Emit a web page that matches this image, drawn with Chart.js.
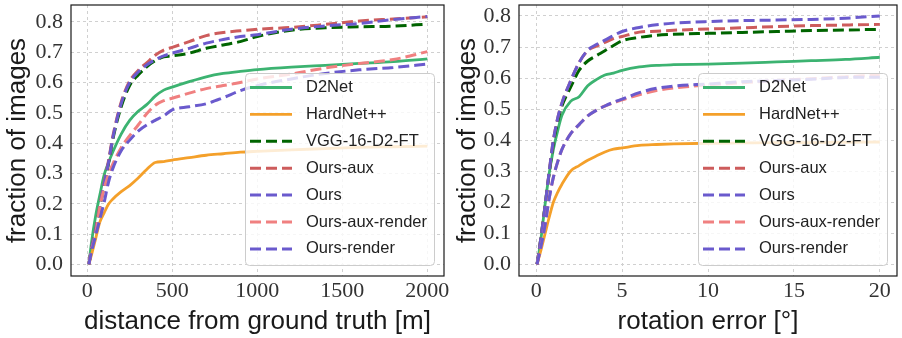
<!DOCTYPE html>
<html>
<head>
<meta charset="utf-8">
<script src="https://cdn.jsdelivr.net/npm/chart.js@4.4.0/dist/chart.umd.min.js"></script>
<style>
  html, body { margin: 0; padding: 0; background: #fff; }
  canvas { position: absolute; top: 0; }
  #left { left: 0; }
  #right { left: 450px; }
</style>
</head>
<body>
<canvas id="left" width="450" height="338"></canvas>
<canvas id="right" width="452" height="338"></canvas>
<script>
// series (same order in both panels)
const seriesNames = ['D2Net', 'HardNet++', 'VGG-16-D2-FT', 'Ours-aux', 'Ours', 'Ours-aux-render', 'Ours-render'];
const seriesColors = ['#3cb371', '#f4a02a', '#006400', '#cd5c5c', '#6a5acd', '#f08080', '#6a5acd'];
const seriesDashed = [false, false, true, true, true, true, true];

// left panel: distance from ground truth [m]
const distX = [10, 25, 50, 75, 100, 125, 150, 200, 250, 300, 350, 400, 450, 500, 600, 700, 800, 900, 1000, 1200, 1400, 1600, 1800, 2000];
const distD2Net = [0, 0.07, 0.16, 0.23, 0.295, 0.335, 0.37, 0.43, 0.475, 0.505, 0.527, 0.555, 0.575, 0.585, 0.603, 0.619, 0.63, 0.637, 0.643, 0.651, 0.657, 0.663, 0.669, 0.678];
const distHardNet = [0, 0.03, 0.085, 0.14, 0.17, 0.198, 0.215, 0.24, 0.26, 0.285, 0.313, 0.336, 0.339, 0.344, 0.352, 0.36, 0.365, 0.37, 0.373, 0.378, 0.382, 0.386, 0.388, 0.39];
const distVGG = [0, 0.05, 0.11, 0.19, 0.26, 0.33, 0.41, 0.52, 0.59, 0.625, 0.652, 0.672, 0.685, 0.688, 0.697, 0.713, 0.724, 0.735, 0.752, 0.773, 0.781, 0.784, 0.786, 0.793];
const distOursAux = [0, 0.05, 0.115, 0.195, 0.27, 0.34, 0.42, 0.535, 0.605, 0.64, 0.665, 0.69, 0.707, 0.716, 0.735, 0.755, 0.765, 0.771, 0.776, 0.782, 0.792, 0.803, 0.81, 0.817];
const distOurs = [0, 0.05, 0.11, 0.19, 0.265, 0.335, 0.415, 0.53, 0.6, 0.635, 0.658, 0.675, 0.688, 0.697, 0.713, 0.73, 0.742, 0.752, 0.758, 0.776, 0.787, 0.795, 0.808, 0.818];
const distOursAuxRender = [0, 0.045, 0.1, 0.19, 0.25, 0.295, 0.33, 0.385, 0.425, 0.46, 0.497, 0.525, 0.54, 0.548, 0.565, 0.58, 0.59, 0.6, 0.612, 0.628, 0.648, 0.663, 0.676, 0.702];
const distOursRender = [0, 0.04, 0.095, 0.15, 0.205, 0.27, 0.315, 0.375, 0.41, 0.44, 0.46, 0.475, 0.49, 0.51, 0.52, 0.53, 0.55, 0.573, 0.59, 0.612, 0.63, 0.642, 0.65, 0.661];

// right panel: rotation error [deg]
const rotX = [0.05, 0.25, 0.5, 0.75, 1, 1.25, 1.5, 2, 2.5, 3, 3.5, 4, 4.5, 5, 6, 7, 8, 10, 12, 14, 16, 18, 20];
const rotD2Net = [0, 0.07, 0.185, 0.29, 0.37, 0.43, 0.48, 0.525, 0.54, 0.575, 0.595, 0.61, 0.616, 0.625, 0.636, 0.641, 0.643, 0.645, 0.648, 0.652, 0.656, 0.66, 0.667];
const rotHardNet = [0, 0.04, 0.095, 0.15, 0.2, 0.232, 0.258, 0.3, 0.318, 0.335, 0.349, 0.362, 0.371, 0.375, 0.383, 0.386, 0.388, 0.39, 0.391, 0.392, 0.392, 0.393, 0.394];
const rotVGG = [0, 0.075, 0.18, 0.29, 0.39, 0.46, 0.51, 0.57, 0.625, 0.655, 0.672, 0.688, 0.705, 0.72, 0.731, 0.738, 0.741, 0.744, 0.747, 0.75, 0.753, 0.755, 0.757];
const rotOursAux = [0, 0.075, 0.18, 0.295, 0.4, 0.47, 0.52, 0.59, 0.65, 0.688, 0.703, 0.715, 0.727, 0.734, 0.748, 0.751, 0.754, 0.758, 0.762, 0.766, 0.769, 0.771, 0.773];
const rotOurs = [0, 0.075, 0.18, 0.295, 0.4, 0.47, 0.52, 0.59, 0.65, 0.69, 0.708, 0.722, 0.737, 0.75, 0.763, 0.772, 0.777, 0.782, 0.785, 0.787, 0.789, 0.793, 0.8];
const rotOursAuxRender = [0, 0.05, 0.12, 0.21, 0.28, 0.33, 0.37, 0.42, 0.45, 0.478, 0.496, 0.51, 0.52, 0.53, 0.546, 0.56, 0.568, 0.578, 0.585, 0.592, 0.598, 0.604, 0.61];
const rotOursRender = [0, 0.05, 0.12, 0.21, 0.28, 0.33, 0.37, 0.42, 0.45, 0.478, 0.496, 0.51, 0.522, 0.532, 0.553, 0.567, 0.574, 0.581, 0.588, 0.592, 0.596, 0.602, 0.603];

// tick labels
const yTicks = [0, 0.1, 0.2, 0.3, 0.4, 0.5, 0.6, 0.7, 0.8];
const distTicks = [0, 500, 1000, 1500, 2000];
const rotTicks = [0, 5, 10, 15, 20];

const tickFont = { family: 'Liberation Serif', size: 22 };
const titleFont = { family: 'Liberation Sans', size: 26 };

// black box round the plot area
const frameBox = {
  id: 'frameBox',
  afterDatasetsDraw(chart) {
    const { ctx, chartArea: a } = chart;
    ctx.save();
    ctx.strokeStyle = '#1a1a1a';
    ctx.lineWidth = 1.2;
    ctx.strokeRect(a.left, a.top, a.right - a.left, a.bottom - a.top);
    ctx.restore();
  }
};

// matplotlib-like legend in the lower right corner
const insetLegend = {
  id: 'insetLegend',
  afterDraw(chart) {
    const { ctx, chartArea: a } = chart;
    const w = 189, h = 192;
    const x0 = a.right - 10 - w;
    const y0 = a.bottom - 11 - h;
    ctx.save();
    ctx.beginPath();
    ctx.roundRect(x0 + 0.5, y0 + 0.5, w, h, 4);
    ctx.fillStyle = 'rgba(255,255,255,0.8)';
    ctx.fill();
    ctx.strokeStyle = '#cccccc';
    ctx.lineWidth = 1;
    ctx.stroke();
    chart.data.datasets.forEach((ds, i) => {
      const y = y0 + 14.5 + i * 26.9;
      ctx.beginPath();
      ctx.setLineDash(ds.borderDash);
      ctx.strokeStyle = ds.borderColor;
      ctx.lineWidth = ds.borderWidth;
      ctx.moveTo(x0 + 5, y);
      ctx.lineTo(x0 + 47, y);
      ctx.stroke();
      ctx.setLineDash([]);
      ctx.fillStyle = '#222';
      ctx.font = '16.5px "Liberation Sans"';
      ctx.textBaseline = 'middle';
      ctx.fillText(ds.label, x0 + 61, y);
    });
    ctx.restore();
  }
};

function makePanel(id, xs, values, cfg) {
  const datasets = seriesNames.map((name, i) => ({
    label: name,
    data: xs.map((x, j) => ({ x: x, y: values[i][j] })),
    borderColor: seriesColors[i],
    borderWidth: seriesDashed[i] ? 3 : 2.8,
    borderDash: seriesDashed[i] ? [11, 5] : [],
    pointRadius: 0,
    fill: false,
    cubicInterpolationMode: 'monotone',
    order: seriesNames.length - i
  }));

  new Chart(document.getElementById(id), {
    type: 'line',
    data: { datasets: datasets },
    options: {
      responsive: false,
      animation: false,
      devicePixelRatio: 1,
      layout: { padding: cfg.padding },
      plugins: { legend: { display: false }, tooltip: { enabled: false } },
      scales: {
        x: {
          type: 'linear',
          min: cfg.xMin,
          max: cfg.xMax,
          afterBuildTicks: (s) => { s.ticks = cfg.xTicks.map(v => ({ value: v })); },
          afterFit: (s) => { s.height = 62; s.paddingLeft = 0; s.paddingRight = 0; },
          ticks: { padding: 2, font: tickFont, color: '#333', maxRotation: 0, autoSkip: false, callback: (v) => String(v) },
          grid: { color: '#d0d0d0', lineWidth: 1, drawTicks: false },
          border: { display: false, dash: [3, 3] },
          title: { display: true, text: cfg.xTitle, font: titleFont, color: '#1a1a1a', padding: { top: 0, bottom: 1 } }
        },
        y: {
          min: cfg.yMin,
          max: cfg.yMax,
          afterBuildTicks: (s) => { s.ticks = yTicks.map(v => ({ value: v })); },
          afterFit: (s) => { s.width = cfg.yWidth; s.paddingTop = 0; s.paddingBottom = 0; },
          ticks: { padding: 8, font: tickFont, color: '#333', autoSkip: false, callback: (v) => v.toFixed(1) },
          grid: { color: '#d0d0d0', lineWidth: 1, drawTicks: false },
          border: { display: false, dash: [3, 3] },
          title: { display: true, text: 'fraction of images', font: titleFont, color: '#1a1a1a', padding: { top: 2, bottom: 0 } }
        }
      }
    },
    plugins: [frameBox, insetLegend]
  });
}

makePanel('left', distX,
  [distD2Net, distHardNet, distVGG, distOursAux, distOurs, distOursAuxRender, distOursRender],
  { padding: { top: 5, right: 6, left: 0, bottom: 0 }, yWidth: 71, xMin: -95, xMax: 2098, xTicks: distTicks,
    yMin: -0.0386, yMax: 0.856, xTitle: 'distance from ground truth [m]' });

makePanel('right', rotX,
  [rotD2Net, rotHardNet, rotVGG, rotOursAux, rotOurs, rotOursAuxRender, rotOursRender],
  { padding: { top: 5, right: 5, left: 0, bottom: 0 }, yWidth: 69, xMin: -1, xMax: 21, xTicks: rotTicks,
    yMin: -0.0377, yMax: 0.8354, xTitle: 'rotation error [°]' });
</script>
</body>
</html>
